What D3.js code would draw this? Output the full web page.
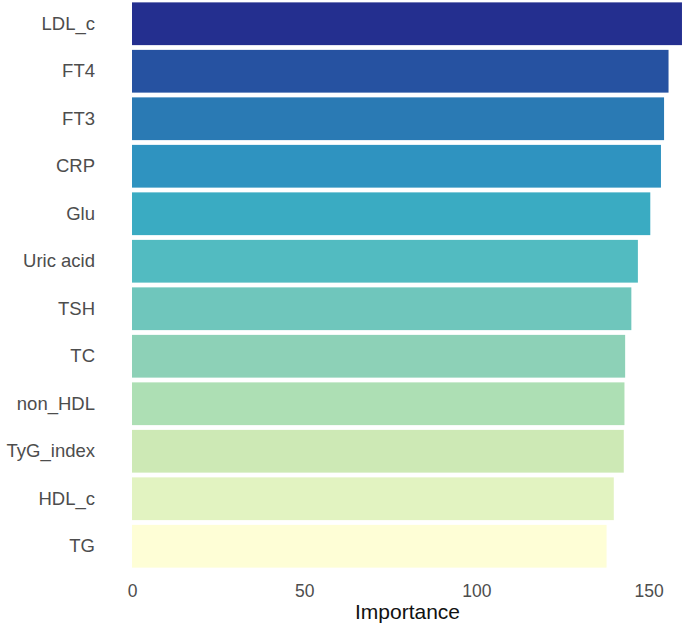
<!DOCTYPE html>
<html>
<head>
<meta charset="utf-8">
<script src="https://cdn.jsdelivr.net/npm/d3@7"></script>
<style>
  html, body { margin: 0; padding: 0; background: #ffffff; }
  svg { display: block; }
</style>
</head>
<body>
<svg id="chart" width="685" height="630"></svg>
<script>
const categories = ["LDL_c", "FT4", "FT3", "CRP", "Glu", "Uric acid", "TSH", "TC", "non_HDL", "TyG_index", "HDL_c", "TG"];
const importance = [159.7, 155.8, 154.5, 153.6, 150.5, 146.9, 145.0, 143.2, 143.0, 142.8, 139.9, 137.8];
const barColors = ["#242f8f", "#2652a1", "#2a7ab4", "#2f93c0", "#3aabc2", "#52bbc1", "#6fc6bc", "#8dd1b7", "#addfb4", "#cde9b5", "#e2f3c1", "#fefed6"];
const xTicks = [0, 50, 100, 150];
const xTitle = "Importance";

const svg = d3.select("#chart");
const mLeft = 132, mRight = 683, mTop = 0, mBottom = 570;

const x = d3.scaleLinear().domain([0, 160]).range([mLeft, mRight]);
const y = d3.scaleBand().domain(categories).range([mTop, mBottom]).paddingInner(0.1).paddingOuter(0.05);

svg.append("g").selectAll("rect")
  .data(categories)
  .join("rect")
  .attr("x", x(0))
  .attr("y", d => y(d))
  .attr("width", (d, i) => x(importance[i]) - x(0))
  .attr("height", y.bandwidth())
  .attr("fill", (d, i) => barColors[i]);

const yAxis = svg.append("g")
  .attr("transform", `translate(95,0)`)
  .call(d3.axisLeft(y).tickSize(0).tickPadding(0));
yAxis.select(".domain").remove();
yAxis.selectAll("text")
  .attr("font-family", "Liberation Sans, Arial, sans-serif")
  .attr("font-size", 18.5)
  .attr("fill", "#4d4d4d");

const xAxis = svg.append("g")
  .attr("transform", `translate(0,${mBottom})`)
  .call(d3.axisBottom(x).tickValues(xTicks).tickSize(0).tickPadding(15));
xAxis.select(".domain").remove();
xAxis.selectAll("text")
  .attr("font-family", "Liberation Sans, Arial, sans-serif")
  .attr("font-size", 17.5)
  .attr("fill", "#4d4d4d");

svg.append("text")
  .attr("x", (mLeft + mRight) / 2)
  .attr("y", 619)
  .attr("text-anchor", "middle")
  .attr("font-family", "Liberation Sans, Arial, sans-serif")
  .attr("font-size", 21)
  .attr("fill", "#111111")
  .text(xTitle);
</script>
</body>
</html>
